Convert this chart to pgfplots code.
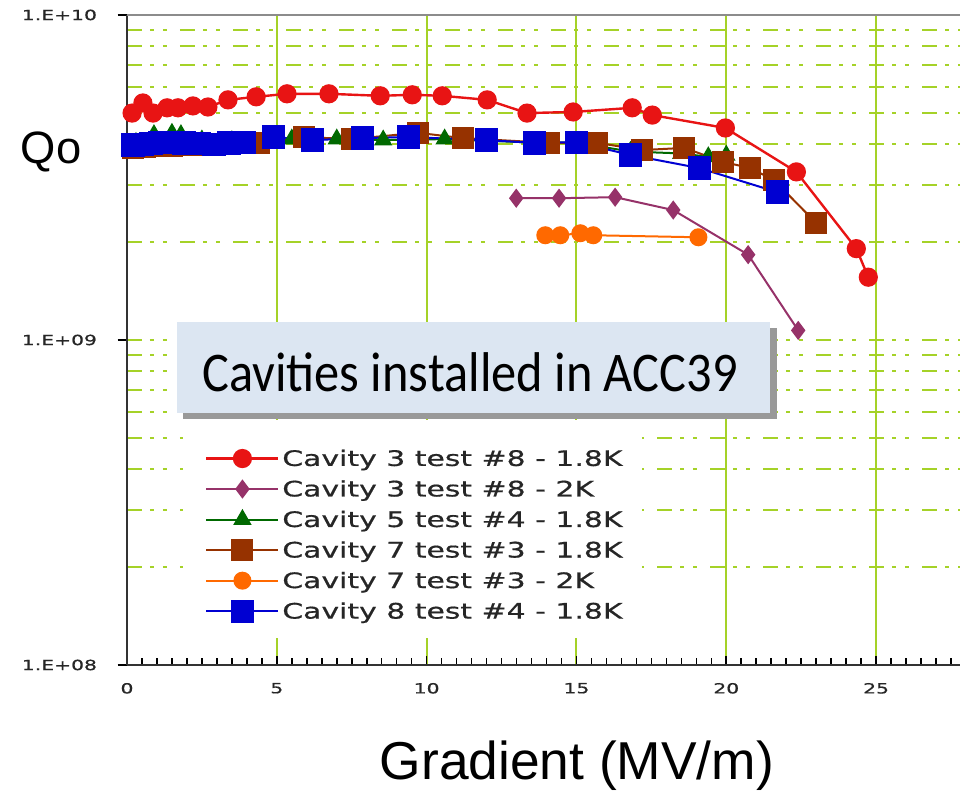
\documentclass[border=0pt]{standalone}
\usepackage{pgfplots}
\pgfplotsset{compat=1.18}
\usepackage{fontspec}
\newfontfamily\tickfont[FakeStretch=1.45, FakeBold=0.7]{DejaVu Sans}
\newfontfamily\legfont[FakeStretch=1.4, FakeBold=0.6]{DejaVu Sans}
\newfontfamily\boxfont[FakeStretch=0.9]{Carlito}
\newfontfamily\labfont{Liberation Sans}

\definecolor{gridgreen}{RGB}{165,210,40}
\definecolor{c3red}{RGB}{232,20,20}
\definecolor{c3purple}{RGB}{150,50,105}
\definecolor{c5green}{RGB}{0,105,0}
\definecolor{c7brown}{RGB}{150,50,0}
\definecolor{c7orange}{RGB}{255,105,0}
\definecolor{c8blue}{RGB}{0,0,210}
\definecolor{boxblue}{RGB}{220,230,242}

\begin{document}
\begin{tikzpicture}
% 1px = 0.75pt; axis box is 833x650 px, whole picture 960x794 px
\useasboundingbox (-95.25pt,-96.75pt) rectangle (624.75pt,498.75pt);
\begin{axis}[
    name=ax, at={(0,0)}, anchor=south west,
    scale only axis, width=624.75pt, height=487.5pt,
    xmin=0, xmax=27.8, ymin=1e8, ymax=1e10, ymode=log,
    axis x line*=bottom, axis y line*=left,
    axis line style={draw=black!80, line width=1.4pt, -},
    xtick={0,5,10,15,20,25}, xticklabels={0,5,10,15,20,25},
    minor xtick={0.5,1,...,27.5},
    ytick={1e8,1e9,1e10}, yticklabels={1.E+08,1.E+09,1.E+10},
    xtick align=inside, ytick align=outside,
    major tick length=7pt, minor tick length=5pt,
    tick style={draw=black, line width=1.2pt},
    minor y tick style={draw=none},
    xmajorgrids, ymajorgrids, yminorgrids,
    major x grid style={draw=gridgreen, line width=1.5pt, solid},
    major y grid style={draw=gridgreen, line width=1.5pt,
        dash pattern=on 11.25pt off 6pt on 3pt off 6.75pt on 3pt off 9.75pt},
    minor y grid style={draw=gridgreen, line width=1.5pt,
        dash pattern=on 11.25pt off 6pt on 3pt off 6.75pt on 3pt off 9.75pt},
    tick label style={font=\tickfont\fontsize{10.5}{12}\selectfont, text=black!85},
    xticklabel style={yshift=-10pt},
    yticklabel style={xshift=-12pt},
    legend style={at={(rel axis cs:0.0936,0.3415)}, anchor=north west,
        draw=none, fill=none, inner sep=0pt, column sep=2pt,
        font=\legfont\fontsize{16}{19}\selectfont, text=black!85,
        nodes={inner sep=0pt, text height=17pt, text depth=5.9pt}},
    legend cell align=left,
    legend image code/.code={
        \draw[mark repeat=2, mark phase=2, #1]
            plot coordinates {(0pt,0pt) (27pt,0pt) (54pt,0pt)};
    },
]
% white patch behind the legend (grid is hidden there)
\fill[white] (axis cs:1.87,1.21e8) rectangle (axis cs:17.2,5.67e8);

\addplot[c3red, line width=1.8pt, mark=*, mark size=6.3pt, mark options={solid}] coordinates {
    (0.17,4.99e9) (0.53,5.36e9) (0.87,4.99e9) (1.34,5.18e9) (1.70,5.18e9)
    (2.20,5.25e9) (2.70,5.21e9) (3.37,5.48e9) (4.31,5.60e9) (5.34,5.72e9)
    (6.74,5.72e9) (8.45,5.64e9) (9.52,5.68e9) (10.52,5.64e9) (12.02,5.48e9)
    (13.35,4.99e9) (14.89,5.03e9) (16.86,5.18e9) (17.53,4.92e9) (19.97,4.49e9)
    (22.34,3.29e9) (24.34,1.91e9) (24.74,1.56e9)
};
\addlegendentry{Cavity 3 test \#8 - 1.8K}

\addplot[c3purple, line width=1.5pt, mark=diamond*, mark size=6pt, mark options={solid}] coordinates {
    (12.99,2.73e9) (14.42,2.73e9) (16.29,2.75e9) (18.23,2.51e9) (20.73,1.83e9) (22.40,1.07e9)
};
\addlegendentry{Cavity 3 test \#8 - 2K}

\addplot[c5green, line width=1.5pt, mark=triangle*, mark size=6.5pt, mark options={solid}] coordinates {
    (0.3,4.05e9) (0.9,4.28e9) (1.5,4.32e9) (1.8,4.28e9) (2.5,4.12e9) (3.5,4.1e9)
    (5.5,4.15e9) (7.0,4.15e9) (8.55,4.12e9) (10.6,4.15e9) (12.0,4.1e9)
    (13.6,4.05e9) (15.0,4.05e9) (16.8,3.8e9) (18.5,3.75e9) (19.4,3.66e9) (20.0,3.7e9)
};
\addlegendentry{Cavity 5 test \#4 - 1.8K}

\addplot[c7brown, line width=1.5pt, mark=square*, mark size=7.5pt, mark options={solid}] coordinates {
    (0.2,3.9e9) (0.6,3.92e9) (1.0,3.95e9) (1.5,3.95e9) (2.0,3.97e9) (2.6,3.98e9)
    (3.2,4.0e9) (4.4,4.05e9) (5.9,4.21e9) (7.5,4.15e9) (9.7,4.34e9) (11.2,4.18e9)
    (14.1,4.04e9) (15.7,4.04e9) (17.2,3.84e9) (18.6,3.90e9) (19.9,3.53e9)
    (20.8,3.38e9) (21.6,3.10e9) (23.0,2.29e9)
};
\addlegendentry{Cavity 7 test \#3 - 1.8K}

\addplot[c7orange, line width=1.5pt, mark=*, mark size=6pt, mark options={solid}] coordinates {
    (13.96,2.10e9) (14.46,2.10e9) (15.13,2.13e9) (15.56,2.10e9) (19.07,2.07e9)
};
\addlegendentry{Cavity 7 test \#3 - 2K}

\addplot[c8blue, line width=1.5pt, mark=square*, mark size=8pt, mark options={solid}] coordinates {
    (0.2,3.98e9) (0.5,4.0e9) (0.8,4.02e9) (1.1,4.05e9) (1.5,4.06e9) (1.9,4.04e9)
    (2.4,4.02e9) (2.9,4.0e9) (3.4,4.04e9) (3.9,4.06e9) (4.9,4.21e9) (6.2,4.12e9)
    (7.85,4.18e9) (9.4,4.21e9) (12.0,4.12e9) (13.6,4.04e9) (15.0,4.06e9)
    (16.8,3.71e9) (19.1,3.38e9) (21.7,2.85e9)
};
\addlegendentry{Cavity 8 test \#4 - 1.8K}

\draw[black!45, line width=1.5pt] (rel axis cs:0,1) -- (rel axis cs:1,1);
\end{axis}

% annotations in pixel coordinates of the 960x794 picture
\begin{scope}[x=0.75pt, y=-0.75pt, shift={(-95.25pt,498.75pt)}]
  \fill[black!40] (183,328) rectangle (777,419);
  \fill[boxblue] (177,322) rectangle (770,413);
  \node[font=\boxfont\fontsize{42}{46}\selectfont, text=black] at (470,372) {Cavities installed in ACC39};
  \node[font=\labfont\fontsize{34}{40}\selectfont] at (51,152) {Qo};
  \node[font=\labfont\fontsize{40}{46}\selectfont] at (577,766) {Gradient (MV/m)};
\end{scope}
\end{tikzpicture}
\end{document}
